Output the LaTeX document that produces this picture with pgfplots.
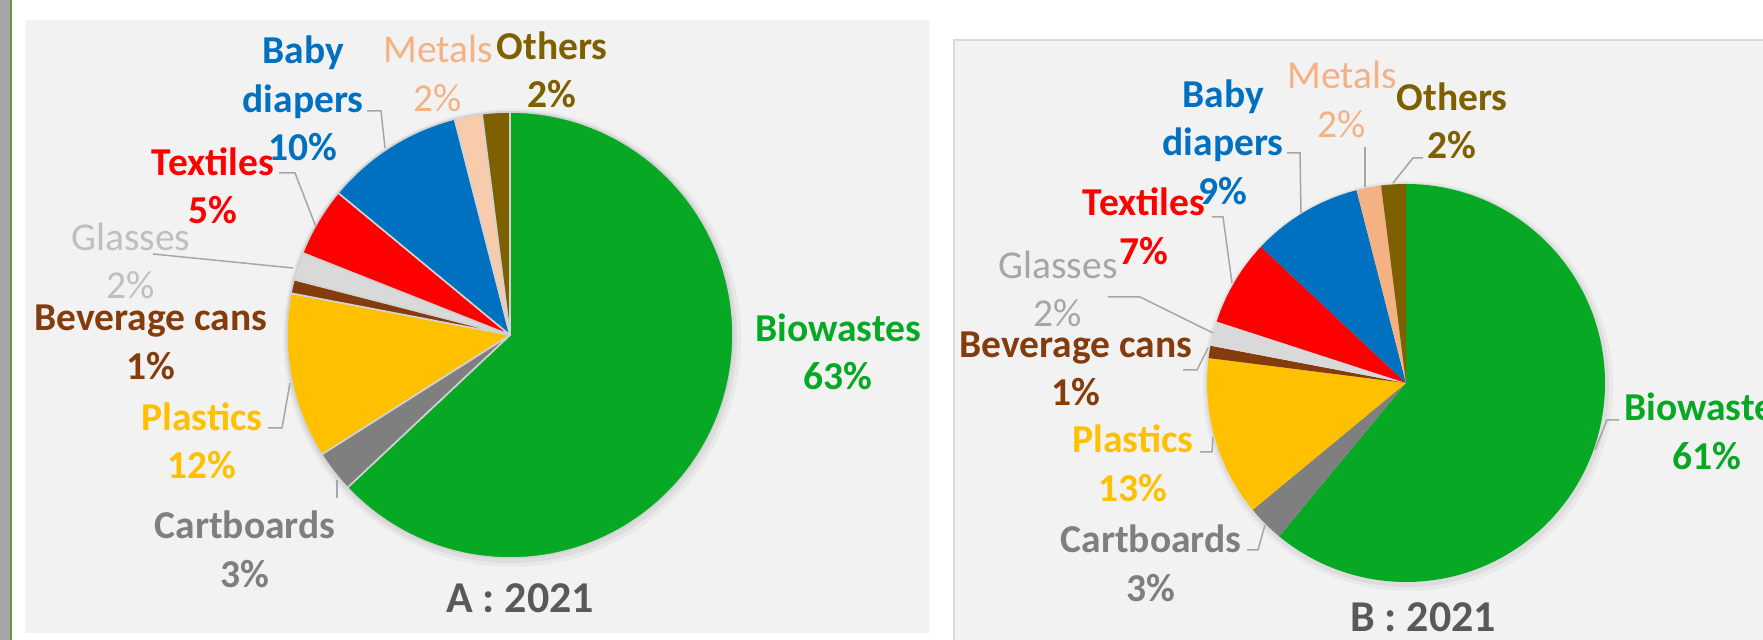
\documentclass[border=0pt]{standalone}
\usepackage{pgfplots}
\usepackage{pgfplotstable}
\pgfplotsset{compat=1.18}
\usepackage{fontspec}
\setmainfont{Carlito}

\definecolor{cBio}{RGB}{7,168,35}
\definecolor{cCart}{RGB}{127,127,127}
\definecolor{cPlas}{RGB}{255,192,0}
\definecolor{cBev}{RGB}{132,60,12}
\definecolor{cGlass}{RGB}{217,217,217}
\definecolor{cTex}{RGB}{255,0,0}
\definecolor{cBaby}{RGB}{0,112,192}
\definecolor{cMetA}{RGB}{248,203,173}
\definecolor{cMetB}{RGB}{244,177,131}
\definecolor{cOth}{RGB}{127,96,0}
\definecolor{tMet}{RGB}{244,177,131}
\definecolor{tGlassA}{RGB}{191,191,191}
\definecolor{tGlassB}{RGB}{166,166,166}
\definecolor{tTitle}{RGB}{89,89,89}
\definecolor{leader}{RGB}{166,166,166}
\definecolor{panel}{RGB}{242,242,242}
\definecolor{panelB}{RGB}{217,217,217}
\definecolor{edgeA}{RGB}{210,210,210}
\definecolor{stripg}{RGB}{166,166,166}
\definecolor{stripgreen}{RGB}{100,150,70}

\pgfplotstableread{
name value col
Biowastes 63 cBio
Cartboards 3 cCart
Plastics 12 cPlas
BeverageCans 1 cBev
Glasses 2 cGlass
Textiles 5 cTex
BabyDiapers 10 cBaby
Metals 2 cMetA
Others 2 cOth
}\dataA

\pgfplotstableread{
name value col
Biowastes 61 cBio
Cartboards 3 cCart
Plastics 13 cPlas
BeverageCans 1 cBev
Glasses 2 cGlass
Textiles 7 cTex
BabyDiapers 9 cBaby
Metals 2 cMetB
Others 2 cOth
}\dataB

% build the wedge commands from a table: #1 table, #2 cx, #3 cy, #4 radius, #5 result, #6 style
\makeatletter
\def\buildpie#1#2#3#4#5#6{%
  \gdef#5{}%
  \def\curang{90}%
  \pgfplotstablegetrowsof{#1}%
  \pgfmathtruncatemacro\nrows{\pgfplotsretval-1}%
  \pgfplotsforeachungrouped \pidx in {0,...,\nrows}{%
    \pgfplotstablegetelem{\pidx}{value}\of{#1}\let\pval\pgfplotsretval
    \pgfplotstablegetelem{\pidx}{col}\of{#1}\let\pcol\pgfplotsretval
    \pgfmathsetmacro\nextang{\curang-3.6*\pval}%
    \xdef#5{\unexpanded\expandafter{#5}\noexpand\fill[fill=\pcol,#6] (axis cs:#2,#3) -- ++(\curang:#4) arc[start angle=\curang,end angle=\nextang,radius=#4] -- cycle;}%
    \let\curang\nextang
  }%
}
\makeatother

\buildpie{\dataA}{510}{305}{111.5pt}{\pieA}{draw=edgeA,line width=0.8pt,line join=round}
\buildpie{\dataB}{1406}{257}{99.5pt}{\pieB}{draw=none}

\tikzset{
  lab/.style={align=center, inner sep=0pt, font=\fontsize{19.75}{24.25}\selectfont\bfseries},
  labr/.style={align=center, inner sep=0pt, font=\fontsize{19.75}{24.25}\selectfont},
  ttl/.style={inner sep=0pt, text=tTitle, font=\fontsize{22}{26}\selectfont\bfseries},
  ld/.style={draw=leader, line width=0.75pt},
}

\begin{document}
\begin{tikzpicture}
\useasboundingbox (0,0) rectangle (881.5pt,320pt);
\clip (0,0) rectangle (881.5pt,320pt);
\begin{axis}[
  at={(0,0)}, anchor=south west,
  x=0.5pt, y=0.5pt,
  xmin=0, xmax=1763, ymin=0, ymax=640,
  axis lines=none, ticks=none, clip=false,
]
% backgrounds
\fill[white] (axis cs:0,0) rectangle (axis cs:1763,640);
\fill[stripg] (axis cs:0,0) rectangle (axis cs:9.5,640);
\fill[stripgreen] (axis cs:9.5,0) rectangle (axis cs:12,640);
\fill[panel] (axis cs:25,7) rectangle (axis cs:929,620);
\filldraw[fill=panel, draw=panelB, line width=0.75pt] (axis cs:954,-5) rectangle (axis cs:1775,600);

% soft shadows
\fill[black, opacity=0.035] (axis cs:512,302) circle[radius=114.5pt];
\fill[black, opacity=0.05] (axis cs:511,303) circle[radius=113pt];
\fill[black, opacity=0.035] (axis cs:1408,254) circle[radius=102.5pt];
\fill[black, opacity=0.05] (axis cs:1407,255) circle[radius=101pt];

% pies
\pieA
\pieB

% leader lines A
\draw[ld] (axis cs:367,529) -- (axis cs:381,529) -- (axis cs:385,492);
\draw[ld] (axis cs:279,467) -- (axis cs:295,467) -- (axis cs:316,413);
\draw[ld] (axis cs:153,386) -- (axis cs:293,372);
\draw[ld] (axis cs:268,212) -- (axis cs:282,212) -- (axis cs:290,257);
\draw[ld] (axis cs:337,142) -- (axis cs:337,160);

% leader lines B
\draw[ld] (axis cs:1287,487) -- (axis cs:1300,487) -- (axis cs:1301,427);
\draw[ld] (axis cs:1365,493) -- (axis cs:1365,453);
\draw[ld] (axis cs:1423,482) -- (axis cs:1413,482) -- (axis cs:1393,457);
\draw[ld] (axis cs:1212,423) -- (axis cs:1223,423) -- (axis cs:1232,357);
\draw[ld] (axis cs:1108,343) -- (axis cs:1140,343) -- (axis cs:1213,307);
\draw[ld] (axis cs:1183,270) -- (axis cs:1197,270) -- (axis cs:1208,292);
\draw[ld] (axis cs:1200,188) -- (axis cs:1212,188) -- (axis cs:1213,203);
\draw[ld] (axis cs:1247,90) -- (axis cs:1258,90) -- (axis cs:1265,115);
\draw[ld] (axis cs:1619,220) -- (axis cs:1607,220) -- (axis cs:1595,190);

% labels A
\node[lab, text=cBaby] at (axis cs:303,541.5) {Baby\\diapers\\10\%};
\node[labr, text=tMet] at (axis cs:438,566.5) {Metals\\2\%};
\node[lab, text=cOth] at (axis cs:552,570) {Others\\2\%};
\node[lab, text=cTex] at (axis cs:213,454) {Textiles\\5\%};
\node[labr, text=tGlassA] at (axis cs:131,379) {Glasses\\2\%};
\node[lab, text=cBev] at (axis cs:151,297.5) {Beverage cans\\1\%};
\node[lab, text=cPlas] at (axis cs:202,199) {Plastics\\12\%};
\node[lab, text=cCart] at (axis cs:245,90.5) {Cartboards\\3\%};
\node[lab, text=cBio] at (axis cs:838,288) {Biowastes\\63\%};
\node[ttl] at (axis cs:520,42) {A : 2021};

% labels B
\node[lab, text=cBaby] at (axis cs:1223,498) {Baby\\diapers\\9\%};
\node[labr, text=tMet] at (axis cs:1342,540.5) {Metals\\2\%};
\node[lab, text=cOth] at (axis cs:1452,519) {Others\\2\%};
\node[lab, text=cTex] at (axis cs:1144,413.5) {Textiles\\7\%};
\node[labr, text=tGlassB] at (axis cs:1058,351) {Glasses\\2\%};
\node[lab, text=cBev] at (axis cs:1076,271) {Beverage cans\\1\%};
\node[lab, text=cPlas] at (axis cs:1133,176.5) {Plastics\\13\%};
\node[lab, text=cCart] at (axis cs:1151,76.5) {Cartboards\\3\%};
\node[lab, text=cBio] at (axis cs:1707,208.5) {Biowastes\\61\%};
\node[ttl] at (axis cs:1423,23) {B : 2021};
\end{axis}
\end{tikzpicture}
\end{document}
